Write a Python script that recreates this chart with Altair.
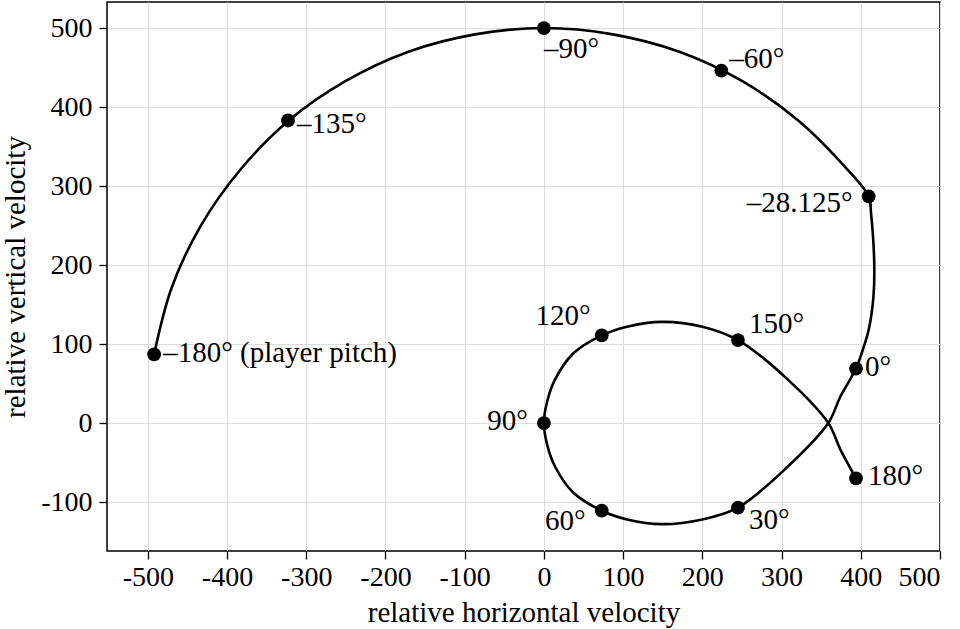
import altair as alt
import pandas as pd

# Curve, in order of pitch angle from -180° to 180°
curve_x = [-492, -470, -433, -383, -322, -250, -171, -87, 0, 87, 171, 250, 321, 383, 410,
           413, 417, 416, 410, 401, 394, 374, 359, 308, 245, 200, 149, 105, 73, 37, 14, 4, 0,
           4, 14, 37, 73, 105, 149, 200, 245, 308, 359, 374, 394]
curve_y = [87, 171, 250, 321, 383, 433, 470, 492, 500, 492, 470, 433, 383, 321, 287,
           265, 202, 160, 118, 88, 69, 33, 0, -55, -107, -122, -128, -122, -111, -88, -55, -27, 0,
           27, 55, 88, 111, 122, 128, 122, 105, 55, 0, -33, -70]

# Labelled points
marker_labels = ["–180° (player pitch)", "–135°", "–90°", "–60°", "–28.125°", "0°",
                 "30°", "60°", "90°", "120°", "150°", "180°"]
marker_x = [-492, -323, 0, 224, 410, 394, 245, 73, 0, 73, 245, 394]
marker_y = [87, 383, 500, 446, 287, 69, -107, -111, 0, 111, 105, -70]

x_ticks = [-500, -400, -300, -200, -100, 0, 100, 200, 300, 400, 500]
y_ticks = [-100, 0, 100, 200, 300, 400, 500]

FONT = "Liberation Serif"
FS_TICK = 28
FS_TEXT = 29

curve = pd.DataFrame({"x": curve_x, "y": curve_y, "i": list(range(len(curve_x)))})
markers = pd.DataFrame({"x": marker_x, "y": marker_y, "label": marker_labels})

xscale = alt.Scale(domain=[-551.5, 500], nice=False, zero=False)
yscale = alt.Scale(domain=[-162, 533], nice=False, zero=False)

xenc = alt.X("x:Q", scale=xscale,
             axis=alt.Axis(values=x_ticks, title="relative horizontal velocity",
                           labelExpr="replace(datum.label, '−', '-')"))
yenc = alt.Y("y:Q", scale=yscale,
             axis=alt.Axis(values=y_ticks, title="relative vertical velocity",
                           labelExpr="replace(datum.label, '−', '-')"))

line = alt.Chart(curve).mark_line(color="black", strokeWidth=2.6,
                                  interpolate="catmull-rom").encode(
    x=xenc, y=yenc, order="i:Q")

dots = alt.Chart(markers).mark_point(filled=True, color="black", opacity=1,
                                     size=190, shape="circle").encode(x="x:Q", y="y:Q")

label_style = {
    "–180° (player pitch)": ("left", 9, -1),
    "–135°": ("left", 9, 4),
    "–90°": ("left", 0, 21),
    "–60°": ("left", 8, -12),
    "–28.125°": ("right", -16, 7),
    "0°": ("left", 9, -2),
    "30°": ("left", 11, 12),
    "60°": ("right", -16, 10),
    "90°": ("right", -16, -2),
    "120°": ("right", -11, -19),
    "150°": ("left", 11, -16),
    "180°": ("left", 12, -2),
}

texts = []
for lab, (al, dx, dy) in label_style.items():
    texts.append(
        alt.Chart(markers).transform_filter(alt.datum.label == lab)
        .mark_text(align=al, baseline="middle", dx=dx, dy=dy, font=FONT,
                   fontSize=FS_TEXT, color="black")
        .encode(x="x:Q", y="y:Q", text="label:N")
    )

chart = alt.layer(line, dots, *texts).properties(
    width=833, height=549,
    autosize=alt.AutoSizeParams(type="none"),
    padding={"left": 107, "top": 2, "right": 20, "bottom": 78},
    background="white",
).configure_view(
    stroke="black", strokeWidth=1.5
).configure_axis(
    domain=False,
    grid=True, gridColor="#dddddd", gridWidth=1,
    ticks=True, tickColor="black", tickSize=8, tickWidth=1.3,
    labelFont=FONT, labelFontSize=FS_TICK, labelColor="black",
    titleFont=FONT, titleFontSize=FS_TEXT, titleColor="black", titleFontWeight="normal",
).configure_axisX(
    labelPadding=4, titlePadding=7,
).configure_axisY(
    labelPadding=7, titlePadding=10,
)

chart.save("out.html", embed_options={"renderer": "svg", "actions": False})
